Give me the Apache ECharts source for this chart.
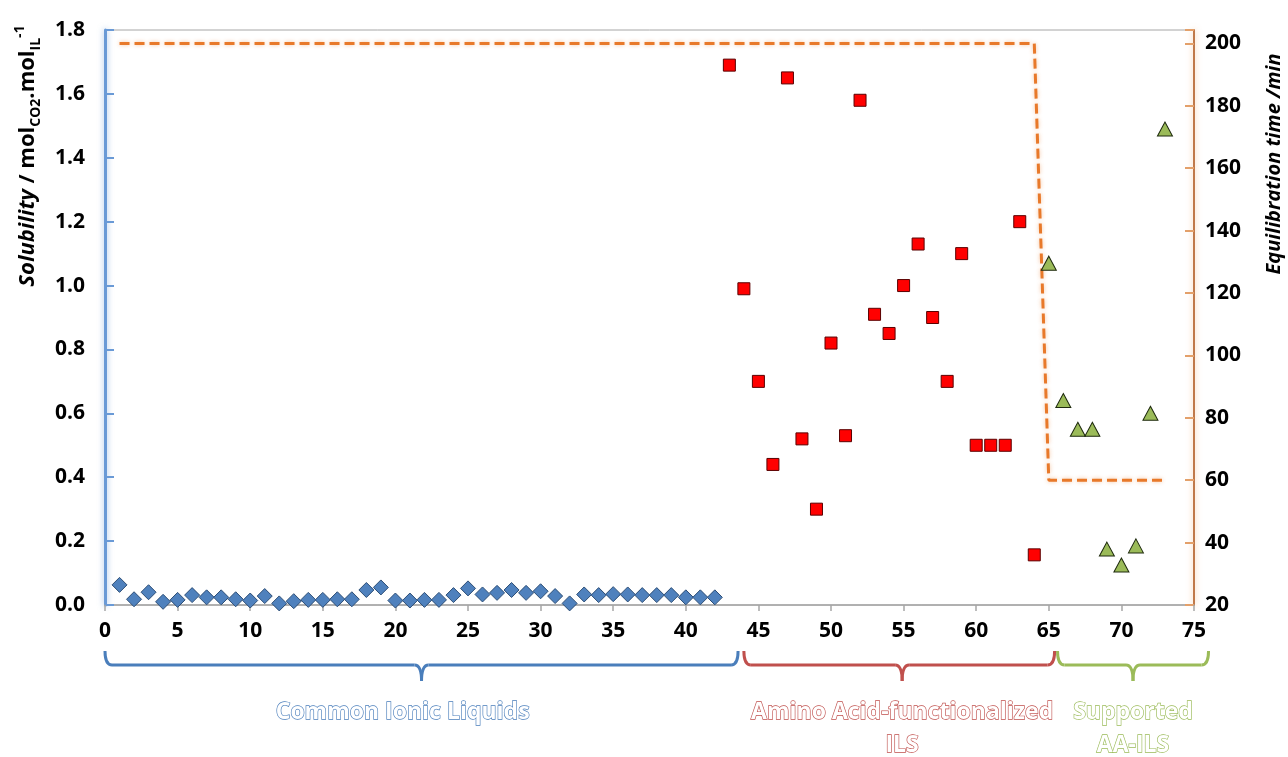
<!DOCTYPE html>
<html>
<head>
<meta charset="utf-8">
<script src="https://cdn.jsdelivr.net/npm/echarts@6/dist/echarts.min.js"></script>
<style>
  html, body { margin: 0; background: #fff; }
  #chart { width: 1288px; height: 757px; }
</style>
</head>
<body>
<div id="chart"></div>
<script>
// common ionic liquids (blue diamonds)
const ionicX = [1, 2, 3, 4, 5, 6, 7, 8, 9, 10, 11, 12, 13, 14, 15, 16, 17, 18, 19, 20, 21,
    22, 23, 24, 25, 26, 27, 28, 29, 30, 31, 32, 33, 34, 35, 36, 37, 38, 39, 40, 41, 42];
const ionicY = [0.063, 0.018, 0.040, 0.010, 0.016, 0.031, 0.024, 0.024, 0.018, 0.014, 0.028,
    0.005, 0.012, 0.016, 0.016, 0.018, 0.018, 0.047, 0.055, 0.014, 0.014, 0.016, 0.016, 0.031,
    0.052, 0.033, 0.038, 0.047, 0.038, 0.043, 0.028, 0.005, 0.033, 0.031, 0.034, 0.033, 0.031,
    0.031, 0.031, 0.024, 0.024, 0.024];

// amino acid-functionalized ILs (red squares)
const aaX = [43, 44, 45, 46, 47, 48, 49, 50, 51, 52, 53, 54, 55, 56, 57, 58, 59, 60, 61, 62, 63, 64];
const aaY = [1.69, 0.99, 0.70, 0.44, 1.65, 0.52, 0.30, 0.82, 0.53, 1.58, 0.91, 0.85, 1.00,
    1.13, 0.90, 0.70, 1.10, 0.50, 0.50, 0.50, 1.20, 0.157];

// supported AA-ILs (green triangles)
const supX = [65, 66, 67, 68, 69, 70, 71, 72, 73];
const supY = [1.07, 0.64, 0.55, 0.55, 0.175, 0.125, 0.185, 0.60, 1.49];

// equilibration time (dashed line, right axis)
const eqX = [1, 64, 65, 73];
const eqY = [200, 200, 60, 60];

const xTicks = { min: 0, max: 75, step: 5 };
const solTicks = { min: 0, max: 1.8, step: 0.2 };
const timeTicks = { min: 20, max: 204.3, step: 20 };

const FONT = '"Open Sans"';
const BLUE = '#4f81bd';
const RED = '#c0504d';
const GREEN = '#9bbb59';
const ORANGE = '#e8792a';

const zip = (xs, ys) => xs.map((x, i) => [x, ys[i]]);

const chart = echarts.init(document.getElementById('chart'));

const labelStyle = { color: '#000', fontFamily: FONT, fontWeight: 'bold', fontSize: 21 };

const option = {
    animation: false,
    grid: {
        left: 105, right: 94, top: 30, bottom: 152,
        show: true, borderColor: '#a6a6a6', borderWidth: 1,
        outerBoundsMode: 'none'
    },
    xAxis: {
        type: 'value',
        min: xTicks.min, max: xTicks.max, interval: xTicks.step,
        splitLine: { show: false },
        axisLine: { onZero: false, lineStyle: { color: '#a6a6a6', width: 1.5 } },
        axisTick: { show: true, length: 6, lineStyle: { color: '#a6a6a6', width: 1.5 } },
        axisLabel: { ...labelStyle, margin: 16 }
    },
    yAxis: [
        {
            type: 'value',
            position: 'left',
            min: solTicks.min, max: solTicks.max, interval: solTicks.step,
            splitLine: { show: false },
            axisLine: {
                show: true,
                lineStyle: { color: '#6a9ad6', width: 3, shadowColor: 'rgba(91,143,211,0.6)', shadowBlur: 6 }
            },
            axisTick: { show: true, inside: true, length: 9, lineStyle: { color: '#6a9ad6', width: 2 } },
            axisLabel: { ...labelStyle, margin: 20, formatter: v => v.toFixed(1) }
        },
        {
            type: 'value',
            position: 'right',
            min: timeTicks.min, max: timeTicks.max, interval: timeTicks.step,
            splitLine: { show: false },
            axisLine: {
                show: true,
                lineStyle: { color: '#c0794a', width: 2, shadowColor: 'rgba(240,170,110,0.7)', shadowBlur: 6 }
            },
            axisTick: { show: true, inside: true, length: 9, lineStyle: { color: '#e3a06a', width: 2 } },
            axisLabel: { ...labelStyle, margin: 11, formatter: v => (Math.abs(v % 20) < 1e-6) ? String(v) : '' }
        }
    ],
    series: [
        {
            name: 'Equilibration time',
            type: 'line',
            yAxisIndex: 1,
            data: zip(eqX, eqY),
            showSymbol: false,
            z: 1,
            lineStyle: {
                color: ORANGE, width: 3, type: [10, 5],
                shadowColor: 'rgba(232,121,42,0.45)', shadowBlur: 4
            }
        },
        {
            name: 'Common Ionic Liquids',
            type: 'scatter',
            data: zip(ionicX, ionicY),
            symbol: 'diamond',
            symbolSize: [15, 15],
            z: 3,
            itemStyle: { color: BLUE, borderColor: '#2c4d75', borderWidth: 1, opacity: 1 }
        },
        {
            name: 'Amino Acid-functionalized ILS',
            type: 'scatter',
            data: zip(aaX, aaY),
            symbol: 'rect',
            symbolSize: 12,
            z: 3,
            itemStyle: { color: '#ff0000', borderColor: '#5a0000', borderWidth: 1, opacity: 1 }
        },
        {
            name: 'Supported AA-ILS',
            type: 'scatter',
            data: zip(supX, supY),
            symbol: 'triangle',
            symbolSize: [15, 14],
            z: 3,
            itemStyle: { color: GREEN, borderColor: '#1e2a0e', borderWidth: 1, opacity: 1 }
        }
    ]
};

chart.setOption(option);

// group braces and labels under the x axis
const px = v => chart.convertToPixel({ xAxisIndex: 0 }, v);

function brace(x1, xm, x2, color) {
    const a = px(x1), m = px(xm), b = px(x2);
    const y = 665, up = 651, down = 681, r = 7;
    const st = { stroke: color, lineWidth: 3, fill: null };
    const curve = (x1, y1, cx, cy, x2, y2) => ({
        type: 'bezierCurve', shape: { x1, y1, cpx1: cx, cpy1: cy, x2, y2 }, style: st
    });
    const seg = (x1, x2) => ({ type: 'line', shape: { x1, y1: y, x2, y2: y }, style: st });
    return {
        type: 'group',
        children: [
            curve(a, up, a, y, a + r, y),
            seg(a + r, m - r),
            curve(m - r, y, m, y, m, down),
            curve(m, down, m, y, m + r, y),
            seg(m + r, b - r),
            curve(b - r, y, b, y, b, up)
        ]
    };
}

function groupLabel(xv, text, color) {
    return {
        type: 'text',
        x: px(xv),
        y: 696,
        style: {
            text: text,
            align: 'center',
            verticalAlign: 'top',
            font: 'bold 23px ' + FONT,
            lineHeight: 33,
            fill: '#ffffff',
            stroke: color,
            lineWidth: 1.3
        }
    };
}

const titleRich = {
    i: { fontFamily: FONT, fontStyle: 'italic', fontWeight: 'bold', fontSize: 22, lineHeight: 30, color: '#000' },
    b: { fontFamily: FONT, fontWeight: 'bold', fontSize: 22, lineHeight: 30, color: '#000' },
    s: { fontFamily: FONT, fontWeight: 'bold', fontSize: 14, lineHeight: 15, verticalAlign: 'bottom', color: '#000' },
    p: { fontFamily: FONT, fontWeight: 'bold', fontSize: 14, lineHeight: 15, verticalAlign: 'top', color: '#000' }
};

chart.setOption({
    graphic: [
        brace(0, 21.8, 43.6, '#4a7ebb'),
        brace(44.0, 54.9, 65.4, RED),
        brace(65.6, 70.8, 76.0, GREEN),
        groupLabel(20.5, 'Common Ionic Liquids', '#4a7ebb'),
        groupLabel(54.9, 'Amino Acid-functionalized\nILS', RED),
        groupLabel(70.8, 'Supported\nAA-ILS', GREEN),
        {
            type: 'text',
            x: 28, y: 156,
            rotation: Math.PI / 2,
            style: {
                text: '{i|Solubility}{b| / mol}{s|CO2}{b|.mol}{s|IL}{p|-1}',
                rich: titleRich,
                align: 'center',
                verticalAlign: 'middle'
            }
        },
        {
            type: 'text',
            x: 1274, y: 164,
            rotation: Math.PI / 2,
            style: {
                text: 'Equilibration time /min',
                font: 'italic bold 20px ' + FONT,
                fill: '#000',
                align: 'center',
                verticalAlign: 'middle'
            }
        }
    ]
});
</script>
</body>
</html>
